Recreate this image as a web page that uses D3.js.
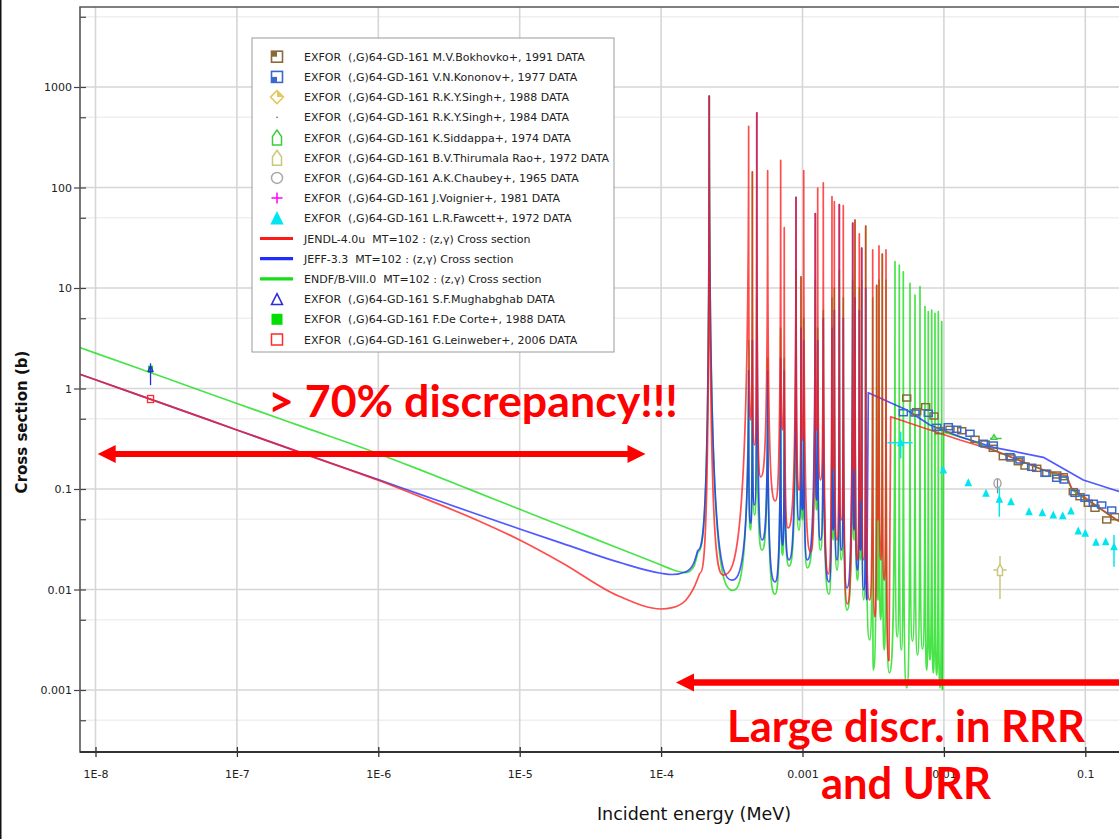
<!DOCTYPE html>
<html><head><meta charset="utf-8">
<script src="https://cdn.jsdelivr.net/npm/d3@7"></script>
<style>
html,body{margin:0;padding:0;background:#fff;}
svg{display:block;}
</style></head><body>
<svg id="chart" width="1119" height="839"></svg>
<script>
// ---------------- DATA ----------------
const xTickValues = [1e-8, 1e-7, 1e-6, 1e-5, 1e-4, 1e-3, 1e-2, 1e-1];
const xTickLabels = ["1E-8", "1E-7", "1E-6", "1E-5", "1E-4", "0.001", "0.01", "0.1"];
const yTickValues = [1e-3, 1e-2, 1e-1, 1, 10, 100, 1000];
const yTickLabels = ["0.001", "0.01", "0.1", "1", "10", "100", "1000"];
const yMinorValues = [5e-4, 5e-3, 5e-2, 0.5, 5, 50, 500, 5000];

// thermal / 1/v region (MeV, barn)
const smoothE     = [7.5e-9, 1e-8, 3e-8, 1e-7, 3e-7, 1e-6, 2e-6, 5e-6, 1e-5, 2e-5, 5e-5, 1e-4, 1.2e-4, 1.5e-4, 1.7e-4];
const jendlSmooth = [1.41, 1.22, 0.707, 0.387, 0.2235, 0.122, 0.0832, 0.0489, 0.0311, 0.0184, 0.00862, 0.0064, 0.00659, 0.00786, 0.0103];
const jeffSmooth  = [1.41, 1.22, 0.707, 0.387, 0.2235, 0.124, 0.088, 0.056, 0.040, 0.0288, 0.0187, 0.0145, 0.0141, 0.01504, 0.01823];
const endfSmooth  = [2.59, 2.25, 1.30, 0.71, 0.41, 0.2246, 0.154, 0.0925, 0.0628, 0.0428, 0.0257, 0.01753, 0.0158, 0.0147, 0.0168];

// resolved resonances: peak energies (MeV)
const resonanceE = [2.19e-4, 4.16e-4, 4.42e-4, 4.75e-4, 5.67e-4, 7.01e-4, 7.43e-4, 9.0e-4, 9.76e-4, 1.02e-3,
  1.232e-3, 1.281e-3, 1.403e-3, 1.616e-3, 1.679e-3, 1.821e-3, 1.943e-3, 2.265e-3, 2.351e-3, 2.522e-3,
  2.622e-3, 2.799e-3, 3.137e-3, 3.347e-3, 3.475e-3, 3.667e-3, 3.895e-3];

// JENDL-4.0u
const jendlPeak = [813, 406, 143, 554, 147, 186, 39.8, 79.8, 12.9, 147, 55.1, 98.9, 111, 81.2, 72.3, 67.7, 65.9,
  44.3, 47.5, 34.5, 25.0, 41.4, 23.9, 10.6, 26.2, 21.8, 23.9];
const jendlValleyE = [1.88e-4, 2.75e-4, 4.29e-4, 4.58e-4, 5.06e-4, 6.42e-4, 7.22e-4, 7.90e-4, 9.45e-4, 9.98e-4,
  1.143e-3, 1.256e-3, 1.341e-3, 1.522e-3, 1.649e-3, 1.754e-3, 1.881e-3, 2.074e-3, 2.313e-3, 2.449e-3,
  2.571e-3, 2.709e-3, 2.977e-3, 3.256e-3, 3.419e-3, 3.573e-3, 3.783e-3, 4.090e-3];
const jendlValley = [0.0146, 0.0139, 0.486, 0.274, 0.132, 0.076, 0.387, 0.0409, 0.0977, 0.307, 0.0236, 0.387,
  0.123, 0.0143, 0.155, 0.0311, 0.0492, 0.00718, 0.155, 0.0197, 0.0777, 0.0197, 0.00786, 0.00533, 0.0492,
  0.0197, 0.0124, 0.00194];
const jendlUrrE = [4.205e-3, 7.97e-3, 1.30e-2, 2.236e-2, 5.05e-2, 7.39e-2, 8.01e-2, 0.1667, 0.191];
const jendlUrr  = [0.524, 0.3865, 0.3073, 0.2444, 0.1546, 0.1347, 0.1016, 0.0492, 0.0449];

// JEFF-3.3
const jeffPeak = [813, 1.5, 3, 554, 1.5, 2, 1.5, 79.8, 4, 3, 55.1, 3, 5, 4, 6, 67.7, 5, 44.3, 8, 6, 25, 10];
const jeffValleyE = [1.82e-4, 3.16e-4, 4.29e-4, 4.58e-4, 5.17e-4, 6.39e-4, 7.22e-4, 8.03e-4, 9.45e-4, 9.98e-4,
  1.081e-3, 1.256e-3, 1.341e-3, 1.539e-3, 1.649e-3, 1.754e-3, 1.881e-3, 2.064e-3, 2.313e-3, 2.449e-3,
  2.571e-3, 2.709e-3, 2.844e-3];
const jeffValley = [0.0247, 0.0124, 0.0459, 0.0693, 0.0311, 0.0119, 0.0277, 0.0197, 0.0492, 0.0618, 0.0197,
  0.0777, 0.0311, 0.0119, 0.0391, 0.0197, 0.0247, 0.0104, 0.0391, 0.0156, 0.0247, 0.0099, 0.0079];
const jeffUrrE = [2.92e-3, 5.46e-3, 7.97e-3, 1.30e-2, 2.236e-2, 5.05e-2, 9.68e-2, 0.1667, 0.191];
const jeffUrr  = [0.908, 0.611, 0.4335, 0.3314, 0.260, 0.2067, 0.1229, 0.0962, 0.0912];

// ENDF/B-VIII.0
const endfPeak = [813, 3, 143, 8, 2, 4, 2, 15, 12.9, 5, 12, 4, 6, 8, 10, 15, 8, 12, 47.5, 10, 12, 41.4, 8, 10.6,
  12, 21.8, 12];
const endfValleyE = [1.82e-4, 3.21e-4, 4.29e-4, 4.58e-4, 5.17e-4, 6.39e-4, 7.22e-4, 8.03e-4, 9.45e-4, 9.98e-4,
  1.081e-3, 1.256e-3, 1.341e-3, 1.539e-3, 1.649e-3, 1.754e-3, 1.881e-3, 2.064e-3, 2.313e-3, 2.449e-3,
  2.571e-3, 2.709e-3, 2.977e-3, 3.167e-3, 3.419e-3, 3.573e-3, 3.783e-3, 4.111e-3];
const endfValley = [0.0237, 0.0098, 0.0391, 0.0551, 0.0247, 0.0090, 0.0220, 0.0171, 0.0391, 0.0492, 0.0164,
  0.0618, 0.0247, 0.0090, 0.0311, 0.0156, 0.0197, 0.00625, 0.0311, 0.0124, 0.0197, 0.0079, 0.00315, 0.00158,
  0.0079, 0.0050, 0.0025, 0.00148];
const endfCombE = [4.51e-3, 4.837e-3, 5.164e-3, 5.758e-3, 6.246e-3, 6.776e-3, 7.349e-3, 7.755e-3, 8.2e-3,
  8.65e-3, 9.13e-3, 9.65e-3];
const endfCombPeak = [18.3, 16.9, 14.5, 11.1, 8.52, 10.3, 6.52, 5.81, 6.04, 5.60, 5.81, 4.62];
const endfCombValleyE = [4.675e-3, 4.997e-3, 5.457e-3, 5.997e-3, 6.506e-3, 7.06e-3, 7.556e-3, 7.97e-3,
  8.414e-3, 8.894e-3, 9.385e-3, 9.775e-3];
const endfCombValley = [0.00337, 0.0025, 0.00105, 0.00307, 0.00223, 0.00256, 0.00158, 0.00199, 0.00148,
  0.00141, 0.00105, 0.001];
const endfUrrE = [9.936e-3, 1.53e-2, 2.236e-2, 5.05e-2, 7.39e-2, 8.05e-2, 0.1667, 0.191];
const endfUrr  = [0.369, 0.307, 0.2444, 0.1546, 0.1287, 0.0977, 0.0492, 0.0449];

// EXFOR points
const bokhovkoE = [5.457e-3, 6.42e-3, 7.43e-3, 8.51e-3, 9.28e-3, 1.104e-2, 1.336e-2, 1.660e-2, 1.953e-2, 2.236e-2,
  2.631e-2, 2.983e-2, 3.359e-2, 3.746e-2, 4.532e-2, 5.333e-2, 6.276e-2, 6.99e-2, 8.225e-2, 9.17e-2, 0.105,
  0.1171, 0.1417, 0.1622];
const bokhovkoS = [0.804, 0.588, 0.659, 0.5325, 0.380, 0.3927, 0.380, 0.3122, 0.2804, 0.254, 0.2097, 0.2035,
  0.1869, 0.1694, 0.1607, 0.1433, 0.1378, 0.1326, 0.094, 0.0838, 0.0721, 0.0643, 0.0492, 0.053];
const kononovE = [5.164e-3, 6.246e-3, 7.755e-3, 8.894e-3, 1.074e-2, 1.232e-2, 1.530e-2, 1.900e-2, 2.236e-2,
  2.935e-2, 3.452e-2, 4.177e-2, 5.188e-2, 6.276e-2, 7.07e-2, 8.456e-2, 9.95e-2, 0.1139, 0.1306, 0.1537];
const kononovS = [0.5743, 0.5704, 0.5665, 0.411, 0.4168, 0.3927, 0.3583, 0.285, 0.274, 0.2097, 0.1943, 0.1644,
  0.1433, 0.1278, 0.1229, 0.0906, 0.0808, 0.0721, 0.0693, 0.0618];
const fawcettE = [4.95e-3, 9.90e-3, 1.488e-2, 1.985e-2, 2.466e-2, 2.983e-2, 4.0e-2, 4.966e-2, 5.937e-2, 6.92e-2,
  7.92e-2, 8.92e-2, 0.1, 0.119, 0.1394, 0.1596];
const fawcettS = [0.2888, 0.1546, 0.1155, 0.0906, 0.079, 0.0747, 0.0594, 0.0581, 0.0551, 0.0543, 0.0604, 0.0382,
  0.0362, 0.0295, 0.0299, 0.0267];
const fawcettErrLo = [0.202, null, null, null, 0.053, null, null, null, null, null, null, null, null, null, null, 0.01686];
const fawcettErrHi = [0.3717, null, null, null, 0.1023, null, null, null, null, null, null, null, null, null, null, 0.0349];
const fawcettXErr = [[3.979e-3, 6.017e-3]];
const chaubeyE = [2.393e-2], chaubeyS = [0.114], chaubeyErr = [[0.0906, 0.1278]];
const thirumalaE = [2.493e-2], thirumalaS = [0.01563], thirumalaErr = [[0.00804, 0.02156]], thirumalaXErr = [[2.236e-2, 2.781e-2]];
const siddappaE = [2.261e-2], siddappaS = [0.318], siddappaXErr = [[2.118e-2, 2.563e-2]];
const thermalE = [2.45e-8];
const deCorteS = [1.553];
const mughabghabS = [1.553], mughabghabErr = [[1.08, 1.78]];
const leinweberS = [0.786];

// legend
const legendLabels = [
  "EXFOR  (,G)64-GD-161 M.V.Bokhovko+, 1991 DATA",
  "EXFOR  (,G)64-GD-161 V.N.Kononov+, 1977 DATA",
  "EXFOR  (,G)64-GD-161 R.K.Y.Singh+, 1988 DATA",
  "EXFOR  (,G)64-GD-161 R.K.Y.Singh+, 1984 DATA",
  "EXFOR  (,G)64-GD-161 K.Siddappa+, 1974 DATA",
  "EXFOR  (,G)64-GD-161 B.V.Thirumala Rao+, 1972 DATA",
  "EXFOR  (,G)64-GD-161 A.K.Chaubey+, 1965 DATA",
  "EXFOR  (,G)64-GD-161 J.Voignier+, 1981 DATA",
  "EXFOR  (,G)64-GD-161 L.R.Fawcett+, 1972 DATA",
  "JENDL-4.0u  MT=102 : (z,\u03b3) Cross section",
  "JEFF-3.3  MT=102 : (z,\u03b3) Cross section",
  "ENDF/B-VIII.0  MT=102 : (z,\u03b3) Cross section",
  "EXFOR  (,G)64-GD-161 S.F.Mughabghab DATA",
  "EXFOR  (,G)64-GD-161 F.De Corte+, 1988 DATA",
  "EXFOR  (,G)64-GD-161 G.Leinweber+, 2006 DATA"];
const legendMarkers = ["sqTL", "sqBL", "diamond", "dot", "house", "house", "circle", "plus", "triFill",
  "line", "line", "line", "triOpen", "sqFill", "sqOpen"];

// annotations (data coords)
const discrArrowE = [1.036e-8, 7.76e-5], discrArrowS = 0.223;
const rrrArrowE = [1.274e-4, 0.25], rrrArrowS = 0.00119;
const annoText = ["> 70% discrepancy!!!", "Large discr. in RRR", "and URR"];

// ---------------- STYLE ----------------
const C = {
  bokhovko: "#8a6b38", kononov: "#3a68cc", singh88: "#e2c860", singh84: "#9a6a40", siddappa: "#3ccc3c",
  thirumala: "#c8c87c", chaubey: "#a8a8a8", voignier: "#ff00ff", fawcett: "#00e6f0",
  jendl: "#ff1a1a", jeff: "#1f2cff", endf: "#16dd16", mughabghab: "#2a2ae0", decorte: "#00e000", leinweber: "#ff2a2a"
};
const legendColors = [C.bokhovko, C.kononov, C.singh88, C.singh84, C.siddappa, C.thirumala, C.chaubey, C.voignier,
  C.fawcett, C.jendl, C.jeff, C.endf, C.mughabghab, C.decorte, C.leinweber];
const FONT = "'DejaVu Sans', sans-serif";

const W = 1119, H = 839;
const P = {left: 80, top: 7, right: 1140, bottom: 752};
const x = d3.scaleLog().domain([1e-8, 0.1]).range([95.5, 1085.3]);
const y = d3.scaleLog().domain([1e-3, 1e3]).range([690, 87]);

const svg = d3.select("#chart");
svg.append("rect").attr("width", W).attr("height", H).attr("fill", "#fff");

// grid
const grid = svg.append("g");
grid.selectAll("line.gmin").data(yMinorValues).join("line").attr("class", "gmin")
  .attr("x1", P.left).attr("x2", P.right).attr("y1", d => y(d)).attr("y2", d => y(d))
  .attr("stroke", "#efefef").attr("stroke-width", 1.5);
grid.selectAll("line.gy").data(yTickValues).join("line").attr("class", "gy")
  .attr("x1", P.left).attr("x2", P.right).attr("y1", d => y(d)).attr("y2", d => y(d))
  .attr("stroke", "#d6d6d6").attr("stroke-width", 1.6);
grid.selectAll("line.gx").data(xTickValues).join("line").attr("class", "gx")
  .attr("y1", P.top).attr("y2", P.bottom).attr("x1", d => x(d)).attr("x2", d => x(d))
  .attr("stroke", "#d6d6d6").attr("stroke-width", 1.6);

// clip
svg.append("clipPath").attr("id", "clip").append("rect")
  .attr("x", P.left).attr("y", P.top).attr("width", P.right - P.left).attr("height", P.bottom - P.top);
const plotG = svg.append("g").attr("clip-path", "url(#clip)");

// needle curve for resonance spikes
function curveNeedle(context) {
  let x0, y0, n;
  return {
    areaStart() {}, areaEnd() {},
    lineStart() { n = 0; },
    lineEnd() {},
    point(px, py) {
      px = +px; py = +py;
      if (n === 0) context.moveTo(px, py);
      else {
        const dx = px - x0;
        if (py < y0) context.bezierCurveTo(x0 + 0.5 * dx, y0, px, y0 + 0.05 * (py - y0), px, py);
        else context.bezierCurveTo(x0, py + 0.05 * (y0 - py), x0 + 0.5 * dx, py, px, py);
      }
      n++; x0 = px; y0 = py;
    }
  };
}
const zip = (a, b) => a.map((v, i) => [v, b[i]]);
function alternate(vE, vS, pE, pS) {
  const out = [];
  for (let i = 0; i < vE.length; i++) {
    out.push([vE[i], vS[i]]);
    if (i < pE.length) out.push([pE[i], pS[i]]);
  }
  return out;
}
const lineSmooth = d3.line().x(d => x(d[0])).y(d => y(d[1])).curve(d3.curveMonotoneX);
const lineRes = d3.line().x(d => x(d[0])).y(d => y(d[1])).curve(curveNeedle);
const lineLin = d3.line().x(d => x(d[0])).y(d => y(d[1]));

function drawLib(color, smoothS, vE, vS, pE, pS, uE, uS) {
  const g = plotG.append("g").attr("fill", "none").attr("stroke", color).attr("stroke-width", 1.7)
    .attr("stroke-opacity", 0.78).attr("stroke-linejoin", "round");
  const sm = zip(smoothE, smoothS).concat([[vE[0], vS[0]]]);
  g.append("path").attr("d", lineSmooth(sm));
  g.append("path").attr("d", lineRes(alternate(vE, vS, pE, pS)));
  const last = [vE[vE.length - 1], vS[vS.length - 1]];
  g.append("path").attr("d", lineLin([last].concat(zip(uE, uS))));
}
drawLib(C.endf, endfSmooth, endfValleyE.concat(endfCombValleyE), endfValley.concat(endfCombValley),
  resonanceE.concat(endfCombE), endfPeak.concat(endfCombPeak), endfUrrE, endfUrr);
drawLib(C.jeff, jeffSmooth, jeffValleyE, jeffValley, resonanceE.slice(0, jeffPeak.length), jeffPeak, jeffUrrE, jeffUrr);
drawLib(C.jendl, jendlSmooth, jendlValleyE, jendlValley, resonanceE, jendlPeak, jendlUrrE, jendlUrr);

// ---------- markers ----------
function marker(g, type, color, cx, cy, s) {
  const h = s / 2;
  if (type === "sqTL" || type === "sqBL") {
    g.append("rect").attr("x", cx - h).attr("y", cy - h).attr("width", s).attr("height", s)
      .attr("fill", "#fff").attr("stroke", color).attr("stroke-width", 1.6);
    g.append("rect").attr("x", cx - h).attr("y", type === "sqTL" ? cy - h : cy).attr("width", h).attr("height", h)
      .attr("fill", color);
  } else if (type === "diamond") {
    g.append("path").attr("d", `M${cx},${cy - h - 1}L${cx + h + 1},${cy}L${cx},${cy + h + 1}L${cx - h - 1},${cy}Z`)
      .attr("fill", "#fff").attr("stroke", color).attr("stroke-width", 1.6);
    g.append("path").attr("d", `M${cx},${cy - h - 1}L${cx + h + 1},${cy}L${cx},${cy}Z`).attr("fill", color);
  } else if (type === "dot") {
    g.append("circle").attr("cx", cx).attr("cy", cy).attr("r", 0.9).attr("fill", color);
  } else if (type === "house") {
    g.append("path").attr("d", `M${cx - h + 1},${cy + h + 2}L${cx + h - 1},${cy + h + 2}L${cx + h - 1},${cy - 1}L${cx},${cy - h - 2}L${cx - h + 1},${cy - 1}Z`)
      .attr("fill", "#fff").attr("stroke", color).attr("stroke-width", 1.5);
  } else if (type === "circle") {
    g.append("circle").attr("cx", cx).attr("cy", cy).attr("r", h).attr("fill", "#fff").attr("stroke", color).attr("stroke-width", 1.5);
  } else if (type === "plus") {
    g.append("path").attr("d", `M${cx - h},${cy}H${cx + h}M${cx},${cy - h}V${cy + h}`).attr("stroke", color).attr("stroke-width", 1.5);
  } else if (type === "triFill" || type === "triOpen") {
    g.append("path").attr("d", `M${cx},${cy - h}L${cx + h},${cy + h}L${cx - h},${cy + h}Z`)
      .attr("fill", type === "triFill" ? color : "none").attr("stroke", color).attr("stroke-width", 1.5);
  } else if (type === "sqFill") {
    g.append("rect").attr("x", cx - h).attr("y", cy - h).attr("width", s).attr("height", s).attr("fill", color);
  } else if (type === "sqOpen") {
    g.append("rect").attr("x", cx - h).attr("y", cy - h).attr("width", s).attr("height", s)
      .attr("fill", "none").attr("stroke", color).attr("stroke-width", 1.5);
  } else if (type === "line") {
    g.append("line").attr("x1", cx - 17).attr("x2", cx + 16).attr("y1", cy).attr("y2", cy)
      .attr("stroke", color).attr("stroke-width", 3.2);
  }
}

const mk = plotG.append("g");
// Bokhovko & Kononov rectangles
mk.selectAll("rect.bok").data(zip(bokhovkoE, bokhovkoS)).join("rect").attr("class", "bok")
  .attr("x", d => x(d[0]) - 4).attr("y", d => y(d[1]) - 3).attr("width", 8).attr("height", 6)
  .attr("fill", "none").attr("stroke", C.bokhovko).attr("stroke-width", 1.5);
mk.selectAll("rect.kon").data(zip(kononovE, kononovS)).join("rect").attr("class", "kon")
  .attr("x", d => x(d[0]) - 4).attr("y", d => y(d[1]) - 3).attr("width", 8).attr("height", 6)
  .attr("fill", "none").attr("stroke", C.kononov).attr("stroke-width", 1.5);
// Fawcett
const fw = mk.append("g").attr("stroke", C.fawcett).attr("stroke-width", 1.5);
fawcettE.forEach((e, i) => {
  if (fawcettErrLo[i] !== null) fw.append("line").attr("x1", x(e)).attr("x2", x(e)).attr("y1", y(fawcettErrLo[i])).attr("y2", y(fawcettErrHi[i]));
});
fw.append("line").attr("x1", x(fawcettXErr[0][0])).attr("x2", x(fawcettXErr[0][1]))
  .attr("y1", y(fawcettS[0])).attr("y2", y(fawcettS[0]));
mk.selectAll("path.fw").data(zip(fawcettE, fawcettS)).join("path").attr("class", "fw")
  .attr("d", d => `M${x(d[0])},${y(d[1]) - 4.5}L${x(d[0]) + 3.8},${y(d[1]) + 3.5}L${x(d[0]) - 3.8},${y(d[1]) + 3.5}Z`)
  .attr("fill", C.fawcett);
// Chaubey
mk.append("line").attr("x1", x(chaubeyE[0])).attr("x2", x(chaubeyE[0])).attr("y1", y(chaubeyErr[0][0])).attr("y2", y(chaubeyErr[0][1]))
  .attr("stroke", "#888").attr("stroke-width", 1.2);
mk.append("ellipse").attr("cx", x(chaubeyE[0])).attr("cy", y(chaubeyS[0])).attr("rx", 3.5).attr("ry", 4.5)
  .attr("fill", "none").attr("stroke", C.chaubey).attr("stroke-width", 1.5);
// Thirumala Rao
const tr = mk.append("g").attr("stroke", C.thirumala).attr("stroke-width", 1.5);
tr.append("line").attr("x1", x(thirumalaE[0])).attr("x2", x(thirumalaE[0])).attr("y1", y(thirumalaErr[0][0])).attr("y2", y(thirumalaErr[0][1]));
tr.append("line").attr("x1", x(thirumalaXErr[0][0])).attr("x2", x(thirumalaXErr[0][1])).attr("y1", y(thirumalaS[0])).attr("y2", y(thirumalaS[0]));
marker(mk, "house", C.thirumala, x(thirumalaE[0]), y(thirumalaS[0]), 7);
// Siddappa
mk.append("line").attr("x1", x(siddappaXErr[0][0])).attr("x2", x(siddappaXErr[0][1])).attr("y1", y(siddappaS[0])).attr("y2", y(siddappaS[0]))
  .attr("stroke", C.siddappa).attr("stroke-width", 1.5);
mk.append("path").attr("d", `M${x(siddappaE[0]) - 3},${y(siddappaS[0]) + 1}L${x(siddappaE[0])},${y(siddappaS[0]) - 4}L${x(siddappaE[0]) + 3},${y(siddappaS[0]) + 1}Z`)
  .attr("fill", "#8ee08e").attr("stroke", C.siddappa).attr("stroke-width", 1.2);
// thermal points
mk.append("rect").attr("x", x(thermalE[0]) - 2.5).attr("y", y(deCorteS[0]) - 3.5).attr("width", 5).attr("height", 7).attr("fill", C.decorte);
mk.append("line").attr("x1", x(thermalE[0])).attr("x2", x(thermalE[0])).attr("y1", y(mughabghabErr[0][0])).attr("y2", y(mughabghabErr[0][1]))
  .attr("stroke", C.mughabghab).attr("stroke-width", 1.3);
mk.append("path").attr("d", `M${x(thermalE[0])},${y(mughabghabS[0]) - 3.5}L${x(thermalE[0]) + 2.5},${y(mughabghabS[0]) + 2}L${x(thermalE[0]) - 2.5},${y(mughabghabS[0]) + 2}Z`)
  .attr("fill", "none").attr("stroke", C.mughabghab).attr("stroke-width", 1.2);
mk.append("rect").attr("x", x(thermalE[0]) - 3).attr("y", y(leinweberS[0]) - 3.5).attr("width", 6).attr("height", 7)
  .attr("fill", "none").attr("stroke", C.leinweber).attr("stroke-width", 1.3);

// ---------- axes ----------
const yAxis = d3.axisLeft(y).tickValues(yTickValues).tickFormat((d, i) => yTickLabels[i]).tickSizeInner(6).tickSizeOuter(0).tickPadding(2);
const gy = svg.append("g").attr("transform", `translate(${P.left},0)`).call(yAxis);
gy.select(".domain").remove();
gy.selectAll(".tick line").attr("x1", 6).attr("stroke", "#444").attr("stroke-width", 1.2);
gy.selectAll(".tick text").attr("font-family", FONT).attr("font-size", 11).attr("fill", "#222");
const yMinorAxis = d3.axisLeft(y).tickValues(yMinorValues).tickFormat("").tickSizeInner(-6).tickSizeOuter(0);
const gym = svg.append("g").attr("transform", `translate(${P.left},0)`).call(yMinorAxis);
gym.select(".domain").remove();
gym.selectAll(".tick line").attr("stroke", "#444").attr("stroke-width", 1.2);

const xAxis = d3.axisBottom(x).tickValues(xTickValues).tickFormat((d, i) => xTickLabels[i]).tickSizeInner(5).tickSizeOuter(0).tickPadding(13);
const gx = svg.append("g").attr("transform", `translate(0,${P.bottom})`).call(xAxis);
gx.select(".domain").remove();
gx.selectAll(".tick line").attr("y1", -5).attr("stroke", "#333").attr("stroke-width", 1.3);
gx.selectAll(".tick text").attr("font-family", FONT).attr("font-size", 11).attr("fill", "#222");

// frame
svg.append("path").attr("d", `M${P.right},${P.top}H${P.left}V${P.bottom}H${P.right}`)
  .attr("fill", "none").attr("stroke", "#555").attr("stroke-width", 1.6);
svg.append("line").attr("x1", P.left).attr("x2", P.right).attr("y1", P.bottom).attr("y2", P.bottom)
  .attr("stroke", "#333").attr("stroke-width", 2);
svg.append("rect").attr("x", 0).attr("y", 0).attr("width", 1.5).attr("height", H).attr("fill", "#111");

// axis titles
svg.append("text").attr("x", 694).attr("y", 819.5).attr("text-anchor", "middle")
  .attr("font-family", FONT).attr("font-size", 17.5).attr("fill", "#111").text("Incident energy (MeV)");
svg.append("text").attr("transform", "translate(27,422) rotate(-90)").attr("text-anchor", "middle")
  .attr("font-family", FONT).attr("font-size", 15).attr("font-weight", "bold").attr("fill", "#111").text("Cross section (b)");

// ---------- legend ----------
const lg = svg.append("g");
lg.append("rect").attr("x", 252).attr("y", 38).attr("width", 362).attr("height", 314)
  .attr("fill", "#fff").attr("stroke", "#9a9a9a").attr("stroke-width", 1);
legendLabels.forEach((t, i) => {
  const cy = 56.7 + i * 20.2;
  marker(lg, legendMarkers[i], legendColors[i], 277, cy, 11);
  lg.append("text").attr("x", 304).attr("y", cy + 4).attr("font-family", FONT).attr("font-size", 11)
    .attr("fill", "#222").style("white-space", "pre").text(t);
});

// ---------- annotations ----------
const RED = "#ff0000";
function arrowHead(g, tipX, cy, dir) {
  g.append("path").attr("d", `M${tipX},${cy}L${tipX + dir * 18},${cy - 9}L${tipX + dir * 18},${cy + 9}Z`).attr("fill", RED);
}
const an = svg.append("g");
const ax0 = x(discrArrowE[0]), ax1 = x(discrArrowE[1]), ayy = y(discrArrowS);
an.append("line").attr("x1", ax0 + 10).attr("x2", ax1 - 10).attr("y1", ayy).attr("y2", ayy).attr("stroke", RED).attr("stroke-width", 6);
arrowHead(an, ax0, ayy, 1); arrowHead(an, ax1, ayy, -1);
const bx0 = x(rrrArrowE[0]), bx1 = x(rrrArrowE[1]), byy = y(rrrArrowS);
an.append("line").attr("x1", bx0 + 10).attr("x2", bx1).attr("y1", byy).attr("y2", byy).attr("stroke", RED).attr("stroke-width", 6.5);
arrowHead(an, bx0, byy, 1);

const ANNO_FONT = "Lato, 'Open Sans', sans-serif";
const t1 = an.append("text").attr("x", 268).attr("y", 417).attr("font-family", ANNO_FONT).attr("font-weight", 700)
  .attr("font-size", 40).attr("fill", RED).text(annoText[0]);
const w1 = t1.node().getComputedTextLength();
t1.attr("font-size", 40 * 410 / w1);
const t2 = an.append("text").attr("x", 906).attr("y", 742).attr("text-anchor", "middle").attr("font-family", ANNO_FONT)
  .attr("font-weight", 700).attr("font-size", 40).attr("fill", RED).text(annoText[1]);
const w2 = t2.node().getComputedTextLength();
const fs2 = 40 * 358 / w2;
t2.attr("font-size", fs2);
an.append("text").attr("x", 906).attr("y", 799).attr("text-anchor", "middle").attr("font-family", ANNO_FONT)
  .attr("font-weight", 700).attr("font-size", fs2).attr("fill", RED).text(annoText[2]);
</script>
</body></html>
